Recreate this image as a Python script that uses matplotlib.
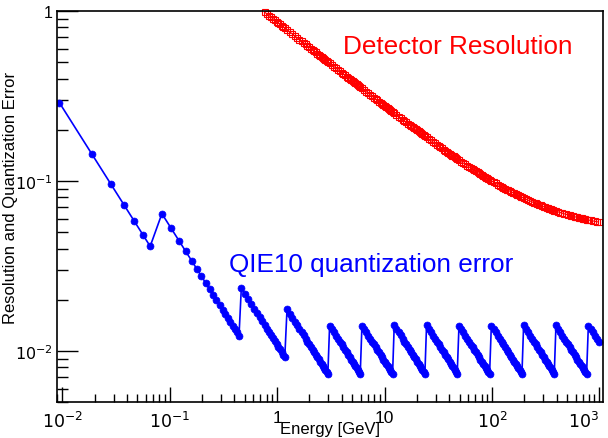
import numpy as np
import matplotlib
matplotlib.use('Agg')
import matplotlib.pyplot as plt

plt.rcParams['font.family'] = ['Liberation Sans', 'DejaVu Sans']

# QIE10 sawtooth: each range starts at an energy, steps with the bin width (GeV)
qie_start = [0.0094, 0.0846, 0.464, 1.236, 3.08, 6.16, 12.3, 24.6, 49.3, 98.6, 197.0, 394.0, 789.0]
qie_step = [0.0094, 0.0188, 0.0376, 0.0752, 0.1504, 0.3008, 0.6016, 1.203, 2.406, 4.813, 9.626, 19.25, 38.5]
qie_npts = [7, 20, 20, 24, 20, 20, 20, 20, 20, 20, 20, 20, 6]

# detector resolution terms: stochastic / sqrt(E) (+) constant
res_stochastic = 0.86
res_constant = 0.0503

xtick_vals = [0.01, 0.1, 1, 10, 100, 1000]
xtick_labels = ['$10^{-2}$', '$10^{-1}$', '1', '10', '$10^{2}$', '$10^{3}$']
ytick_vals = [0.01, 0.1, 1]
ytick_labels = ['$10^{-2}$', '$10^{-1}$', '1']

energy = []
qie_err = []
for s, w, n in zip(qie_start, qie_step, qie_npts):
    e = s + w * np.arange(n)
    energy.append(e)
    qie_err.append(w / np.sqrt(12) / e)
energy = np.concatenate(energy)
qie_err = np.concatenate(qie_err)

res = np.sqrt(res_stochastic**2 / energy + res_constant**2)
keep = res <= 1.0

fig = plt.figure(figsize=(6.08, 4.39), dpi=100)
ax = fig.add_axes([57/608, 1-403/439, (603-57)/608, (403-12)/439])

ax.plot(energy[keep], res[keep], color='red', lw=0.8, marker='s', ms=4.5,
        mfc='none', mec='red', mew=0.8, clip_on=False)
ax.plot(energy, qie_err, color='blue', lw=1.2, marker='o', ms=5,
        mfc='blue', mec='blue', mew=0.5)

ax.set_xscale('log')
ax.set_yscale('log')
ax.set_xlim(0.00893, 1080)
ax.set_ylim(0.005, 1)

ax.set_xticks(xtick_vals)
ax.set_xticklabels(xtick_labels)
ax.set_yticks(ytick_vals)
ax.set_yticklabels(ytick_labels)
ax.tick_params(axis='x', which='major', direction='in', length=11, width=1, labelsize=12.5, pad=6)
ax.tick_params(axis='x', which='minor', direction='in', length=6, width=1)
ax.tick_params(axis='y', which='major', direction='in', length=15, width=1, labelsize=11.5, pad=3)
ax.tick_params(axis='y', which='minor', direction='in', length=8, width=1)
for sp in ax.spines.values():
    sp.set_linewidth(1.2)
# last x label sits against the right edge, as in the original
xl = ax.get_xticklabels()
xl[-1].set_horizontalalignment('right')

ax.text(4.13, 0.622, 'Detector Resolution', color='red', fontsize=18.8, ha='left', va='center')
ax.text(0.359, 0.0325, 'QIE10 quantization error', color='blue', fontsize=18.8, ha='left', va='center')

fig.text(330/608, 1-430/439, 'Energy [GeV]', ha='center', va='center', fontsize=12)
fig.text(11/608, 1-198/439, 'Resolution and Quantization Error', ha='center', va='center',
         rotation=90, fontsize=12)

fig.savefig('out.png', dpi=100)
